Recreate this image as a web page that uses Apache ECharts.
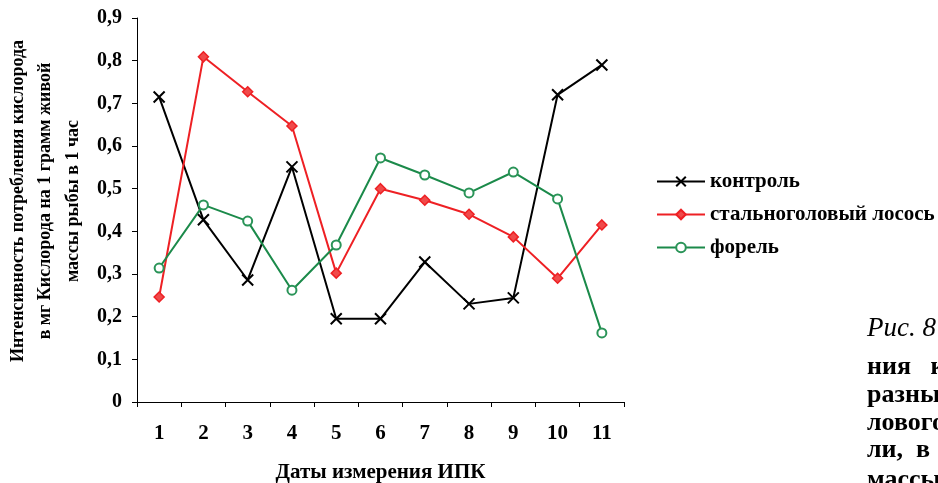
<!DOCTYPE html>
<html>
<head>
<meta charset="utf-8">
<script src="https://cdn.jsdelivr.net/npm/echarts@6/dist/echarts.min.js"></script>
<style>html,body{margin:0;padding:0;background:#fff;}#c{width:938px;height:483px;}</style>
</head>
<body>
<div id="c"></div>
<script>
var categories = ['1','2','3','4','5','6','7','8','9','10','11'];
var control = [0.715, 0.427, 0.286, 0.551, 0.195, 0.195, 0.328, 0.230, 0.244, 0.720, 0.790];
var steelhead = [0.246, 0.809, 0.727, 0.647, 0.302, 0.500, 0.473, 0.440, 0.387, 0.290, 0.415];
var trout = [0.314, 0.462, 0.424, 0.262, 0.368, 0.572, 0.532, 0.490, 0.539, 0.476, 0.162];
var seriesNames = ['контроль', 'стальноголовый лосось', 'форель'];
var yTitleLines = ['Интенсивность потребления кислорода', 'в мг Кислорода на 1 грамм живой', 'массы рыбы в 1 час'];
var xTitle = 'Даты измерения ИПК';
var captionHead = 'Рис. 8';
var sideText = ['ния   кислорода', 'разных', 'лового', 'ли,  в    живой', 'массы'];

var FONT = '"Liberation Serif", "Times New Roman", serif';
var chart = echarts.init(document.getElementById('c'), null, {renderer: 'canvas'});

var graphics = [];
var yx = [18, 45, 73];
yTitleLines.forEach(function (t, i) {
  graphics.push({
    type: 'text', x: yx[i], y: 201, rotation: Math.PI / 2,
    style: {text: t, fontFamily: FONT, fontWeight: 'bold', fontSize: 18, fill: '#000', align: 'center', verticalAlign: 'middle'}
  });
});
graphics.push({
  type: 'text', x: 867, y: 329,
  style: {text: captionHead, fontFamily: FONT, fontStyle: 'italic', fontSize: 27, fill: '#000', align: 'left', verticalAlign: 'middle'}
});
var sy = [367, 395, 423, 450, 480];
sideText.forEach(function (t, i) {
  graphics.push({
    type: 'text', x: 867, y: sy[i],
    style: {text: t, fontFamily: FONT, fontWeight: 'bold', fontSize: 26, fill: '#000', align: 'left', verticalAlign: 'middle'}
  });
});

var option = {
  backgroundColor: '#fff',
  animation: false,
  grid: {left: 137, right: 314, top: 18, bottom: 81, containLabel: false, outerBoundsMode: 'none'},
  legend: {
    orient: 'vertical', left: 651, top: 166, itemGap: 12,
    itemWidth: 48, itemHeight: 12,
    textStyle: {fontFamily: FONT, fontWeight: 'bold', fontSize: 21, color: '#000'},
    data: seriesNames
  },
  xAxis: {
    type: 'category', data: categories, boundaryGap: true,
    axisLine: {lineStyle: {color: '#000', width: 1}},
    axisTick: {show: true, length: 5, lineStyle: {color: '#000'}},
    axisLabel: {margin: 21, fontFamily: FONT, fontWeight: 'bold', fontSize: 21, color: '#000'},
    name: xTitle, nameLocation: 'middle', nameGap: 60,
    nameTextStyle: {fontFamily: FONT, fontWeight: 'bold', fontSize: 21, color: '#000'}
  },
  yAxis: {
    type: 'value', min: 0, max: 0.9, interval: 0.1,
    axisLine: {show: true, lineStyle: {color: '#000', width: 1}},
    axisTick: {show: true, length: 5, lineStyle: {color: '#000'}},
    splitLine: {show: false},
    axisLabel: {
      margin: 15, fontFamily: FONT, fontWeight: 'bold', fontSize: 20, color: '#000',
      formatter: function (v) { return v === 0 ? '0' : v.toFixed(1).replace('.', ','); }
    }
  },
  series: [
    {
      name: seriesNames[0], type: 'line', data: control,
      symbol: 'path://M0,0 L10,10 M10,0 L0,10', symbolSize: 11,
      lineStyle: {color: '#000', width: 2},
      itemStyle: {color: '#000', borderColor: '#000', borderWidth: 2}
    },
    {
      name: seriesNames[1], type: 'line', data: steelhead,
      symbol: 'diamond', symbolSize: 10,
      lineStyle: {color: '#ee2024', width: 2},
      itemStyle: {color: '#f04a4a', borderColor: '#ee2024', borderWidth: 1.5}
    },
    {
      name: seriesNames[2], type: 'line', data: trout,
      symbol: 'circle', symbolSize: 9,
      lineStyle: {color: '#1b8a4a', width: 2},
      itemStyle: {color: '#fff', borderColor: '#2a9458', borderWidth: 2}
    }
  ],
  graphic: graphics
};
chart.setOption(option);
</script>
</body>
</html>
